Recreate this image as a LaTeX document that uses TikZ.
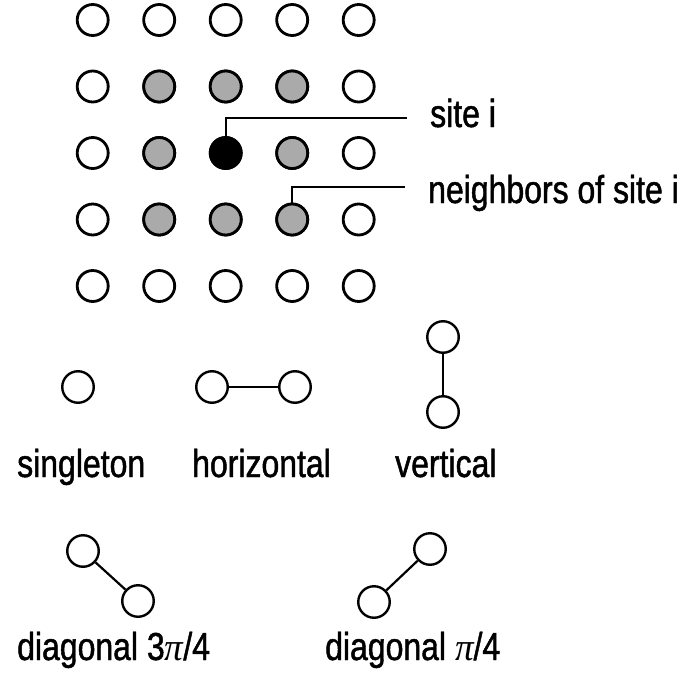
\documentclass[tikz,border=0pt]{standalone}
\usepackage{fontspec}
\newfontfamily\labfont[FakeStretch=0.82,FakeBold=1.2]{Liberation Sans}
\newfontfamily\pifont[FakeStretch=0.95]{Liberation Serif}
\definecolor{sitegray}{RGB}{170,170,170}
\begin{document}
\begin{tikzpicture}[x=1pt,y=-1pt,
  site/.style={circle,draw=black,line width=2.8pt,minimum size=31pt,inner sep=0pt,fill=white},
  nbr/.style={site,fill=sitegray},
  ctr/.style={site,fill=black},
  pairsite/.style={circle,draw=black,line width=2.4pt,minimum size=31.5pt,inner sep=0pt,fill=white},
  leader/.style={line width=2pt},
  bond/.style={line width=2.2pt},
  lab/.style={inner sep=0pt,anchor=base west,font=\labfont\fontsize{39}{39}\selectfont}]
\useasboundingbox (0,0) rectangle (696,677);
% grid of sites
\foreach \i in {0,...,4}{
  \foreach \j in {0,...,4}{
    \pgfmathsetmacro{\xx}{92.7+66.5*\i}
    \pgfmathsetmacro{\yy}{20+66.5*\j}
    \node[site] (g\i\j) at (\xx,\yy) {};
  }
}
% neighbours
\foreach \i/\j in {1/1,2/1,3/1,1/2,3/2,1/3,2/3,3/3}{
  \pgfmathsetmacro{\xx}{92.7+66.5*\i}
  \pgfmathsetmacro{\yy}{20+66.5*\j}
  \node[nbr] (n\i\j) at (\xx,\yy) {};
}
\node[ctr] (c22) at (225.7,153) {};
% leaders
\coordinate (siteend) at (407,118);
\coordinate (nbrend) at (405,187);
\draw[leader] (c22.north) |- (siteend);
\draw[leader] (n33.north) |- (nbrend);
\node[lab] (sitelab) at (430,127) {site i};
\node[lab] (nbrlab) at (428,203) {neighbors of site i};
% cliques
\node[pairsite] (s1) at (78,387) {};
\node[pairsite] (h1) at (212,387) {};
\node[pairsite] (h2) at (295,387) {};
\draw[bond] (h1) -- (h2);
\node[pairsite] (v1) at (443,337) {};
\node[pairsite] (v2) at (443,412) {};
\draw[bond] (v1) -- (v2);
\node[lab] (l1) at (17,477) {singleton};
\node[lab] (l2) at (192,477) {horizontal};
\node[lab] (l3) at (395,477) {vertical};
\node[pairsite] (d1) at (83,551) {};
\node[pairsite] (d2) at (138,601) {};
\draw[bond] (d1) -- (d2);
\node[pairsite] (e1) at (374,602) {};
\node[pairsite] (e2) at (430,549) {};
\draw[bond] (e1) -- (e2);
\node[lab] (l4) at (17,660) {diagonal 3{\pifont\itshape π}/4};
\node[lab] (l5) at (325,660) {diagonal {\pifont\itshape π}/4};
\end{tikzpicture}
\end{document}
